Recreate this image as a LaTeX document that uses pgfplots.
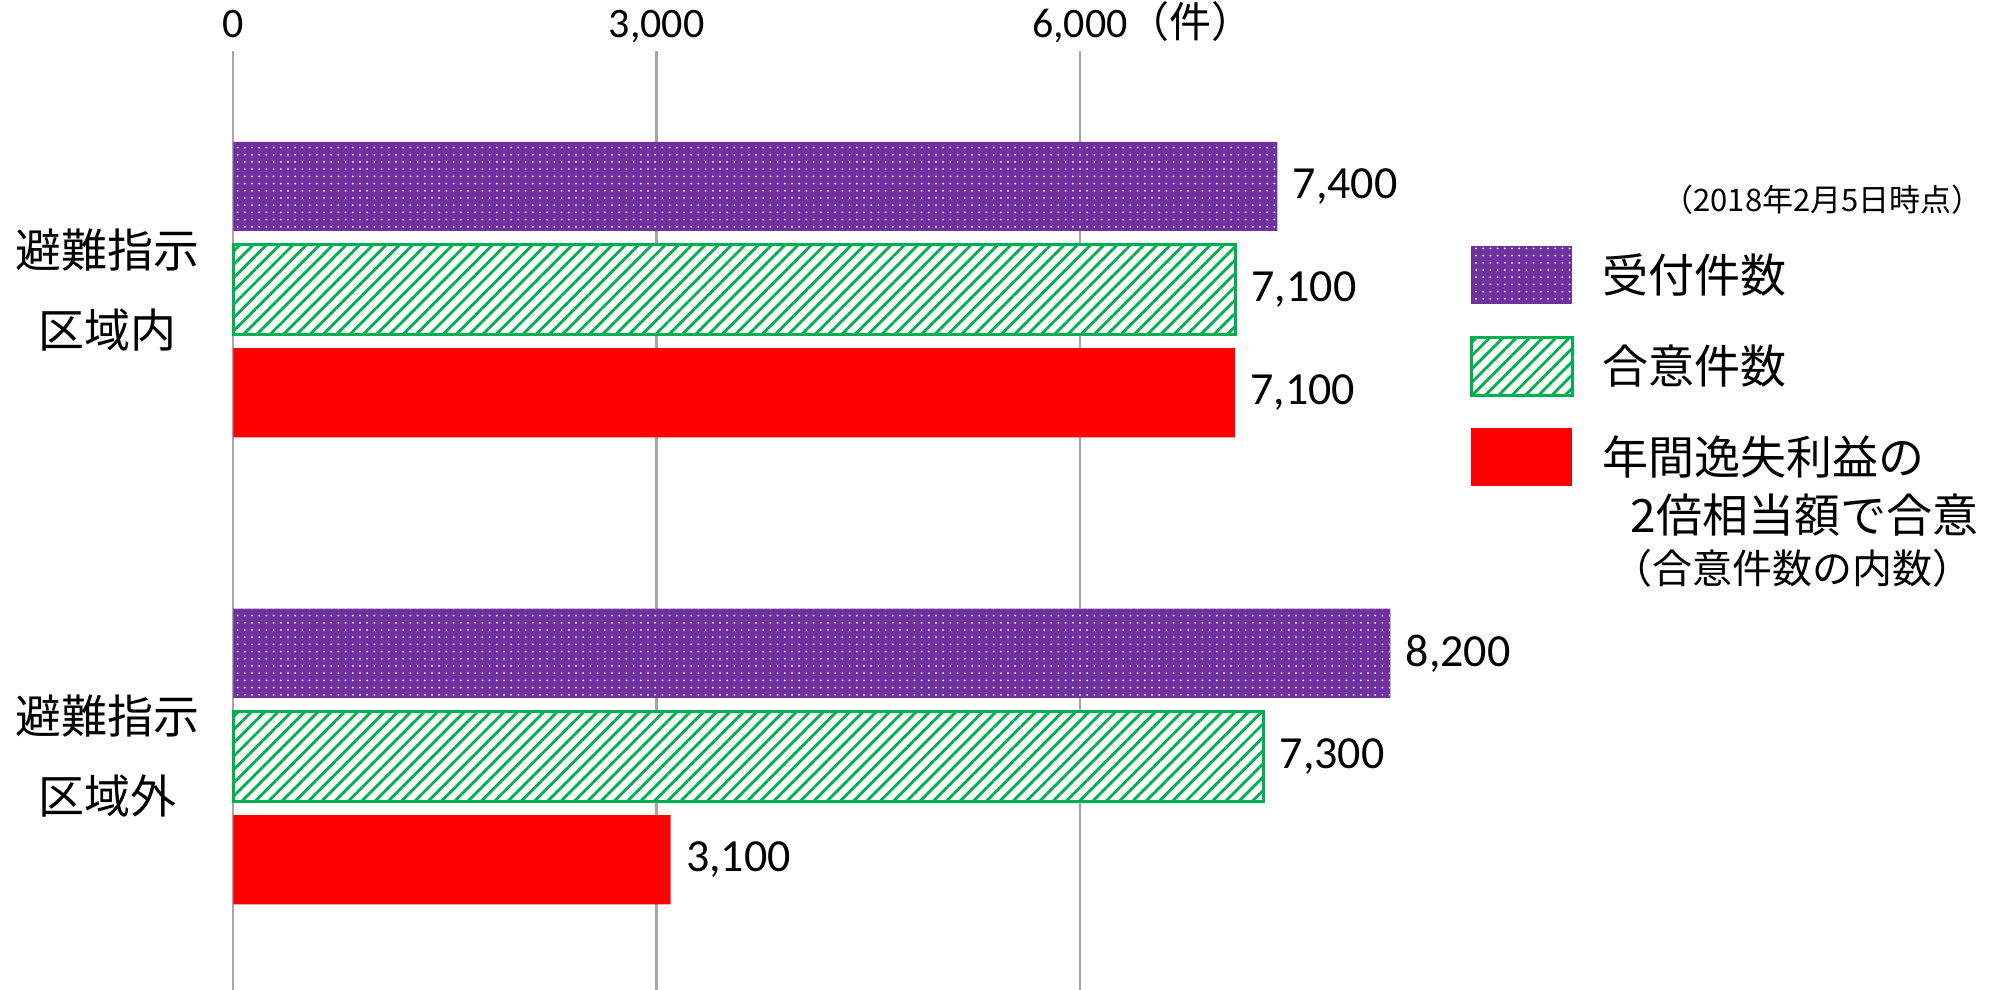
\documentclass[border=0pt]{standalone}
\usepackage{fontspec}
\setmainfont{Carlito}
\newfontfamily\jp{Noto Sans CJK JP}
\usepackage{pgfplots}
\pgfplotsset{compat=1.18}
\usetikzlibrary{patterns.meta}
\definecolor{cpurple}{HTML}{7030A0}
\definecolor{cgreen}{HTML}{00B050}
\definecolor{cred}{HTML}{FF0000}
\definecolor{cgrid}{HTML}{A6A6A6}
\pgfplotsset{sq/.style={legend image code/.code={\path[##1] (0pt,-5.8pt+#1) rectangle (50.5pt,23.2pt+#1);}}}
\begin{document}
\begin{tikzpicture}
\useasboundingbox (0,0) rectangle (999.5pt,495pt);
\begin{axis}[
  at={(116.65pt,0pt)}, anchor=south west,
  scale only axis, width=634.95pt, height=469.5pt,
  xmin=0, xmax=9000, ymin=-0.5, ymax=1.511,
  xbar, bar width=0.191,
  axis line style={draw=none},
  major tick length=0pt,
  xtick={0,3000,6000},
  xticklabels={0,{3,000},{6,000\rlap{\jp\fontsize{21}{25}\selectfont（件）}}},
  xticklabel pos=upper,
  xticklabel style={anchor=base, yshift=6.5pt, font=\fontsize{21}{25}\selectfont, inner sep=0pt},
  xmajorgrids, grid style={cgrid, line width=1.2pt},
  ytick={0,1},
  yticklabels={{避難指示\\区域外},{避難指示\\区域内}},
  yticklabel style={align=center, anchor=center, xshift=-63pt, font=\jp\fontsize{23}{40}\selectfont},
  point meta=x,
  nodes near coords={\pgfmathprintnumber[fixed,precision=0,1000 sep={,}]{\pgfplotspointmeta}},
  every node near coord/.append style={anchor=west, inner sep=0pt, xshift=7.5pt, font=\fontsize{23}{28}\selectfont},
  /pgf/number format/assume math mode=true,
  clip=false,
  legend style={at={(axis description cs:0.9738,0.7923)}, anchor=north west,
    draw=none, fill=none, inner sep=0pt, outer sep=0pt,
    row sep=15.75pt, column sep=14.5pt,
    font=\jp\fontsize{23}{29}\selectfont,
    nodes={inner sep=0pt, outer sep=0pt, align=left, anchor=base west},
    cells={anchor=base west}},
]
\addplot[sq=0pt, bar shift=0.221, draw=none, fill=cpurple,
  postaction={pattern={Dots[distance=3.6pt,radius=0.5pt]}, pattern color=white}]
  coordinates {(7400,1) (8200,0)};
\addlegendentry{受付件数}
\addplot[sq=0pt, bar shift=0, draw=cgreen, line width=1.5pt, fill=white,
  postaction={pattern={Lines[angle=45,distance=4.7pt,line width=1.4pt]}, pattern color=cgreen}]
  coordinates {(7100,1) (7300,0)};
\addlegendentry{合意件数}
\addplot[sq=54.5pt, bar shift=-0.221, draw=none, fill=cred]
  coordinates {(7100,1) (3100,0)};
\addlegendentry{年間逸失利益の\\\hspace*{14pt}2倍相当額で合意\\[-3.5pt]{\fontsize{20}{24}\selectfont\hspace*{5pt}（合意件数の内数）}}
\node[anchor=east, inner sep=0pt, font=\jp\fontsize{15.5}{18}\selectfont] at (axis description cs:1.378,0.8413) {（2018年2月5日時点）};
\end{axis}
\end{tikzpicture}
\end{document}
